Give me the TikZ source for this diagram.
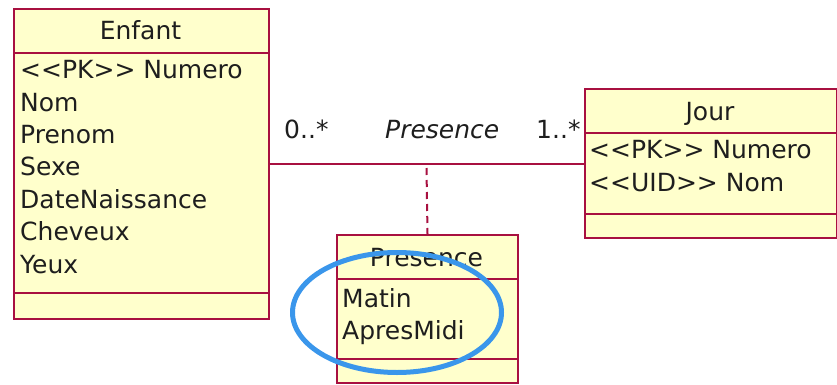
\documentclass[tikz,border=0pt]{standalone}
\usepackage{fontspec}
\setmainfont{DejaVu Sans}[Ligatures=TeXOff]
\definecolor{umlred}{RGB}{168,16,64}
\definecolor{umlfill}{RGB}{255,255,204}
\definecolor{hlblue}{RGB}{58,150,235}
\definecolor{txt}{RGB}{30,30,30}
\begin{document}
\begin{tikzpicture}[x=1pt,y=-1pt,
  comp/.style={draw=umlred, fill=umlfill, line width=2pt, anchor=north west, inner sep=0pt},
  lbl/.style={font=\fontsize{25}{30}\selectfont, text=txt, inner sep=0pt},
  assoc/.style={draw=umlred, line width=2pt},
  dashlink/.style={draw=umlred, line width=2pt, dash pattern=on 7pt off 5pt},
  highlight/.style={draw=hlblue, line width=5pt}]
\useasboundingbox (0,0) rectangle (837,385);
% Enfant
\node[comp, minimum width=255pt, minimum height=44pt] (enfH) at (13,8) {};
\node[comp, minimum width=255pt, minimum height=240pt] (enfA) at (13,52) {};
\node[comp, minimum width=255pt, minimum height=26pt] (enfO) at (13,292) {};
\node[lbl, anchor=base] (enfT) at (140.5,40) {Enfant};
\node[lbl, anchor=base west] (e1) at (20,78.5) {<<PK>> Numero};
\node[lbl, anchor=base west] (e2) at (20,111) {Nom};
\node[lbl, anchor=base west] (e3) at (20,143.4) {Prenom};
\node[lbl, anchor=base west] (e4) at (20,175.8) {Sexe};
\node[lbl, anchor=base west] (e5) at (20,208.2) {DateNaissance};
\node[lbl, anchor=base west] (e6) at (20,240.6) {Cheveux};
\node[lbl, anchor=base west] (e7) at (20,273) {Yeux};
% Jour
\node[comp, minimum width=252pt, minimum height=44pt] (jourH) at (584,88) {};
\node[comp, minimum width=252pt, minimum height=81pt] (jourA) at (584,132) {};
\node[comp, minimum width=252pt, minimum height=24pt] (jourO) at (584,213) {};
\node[lbl, anchor=base] (jourT) at (710,120.7) {Jour};
\node[lbl, anchor=base west] (j1) at (589,158) {<<PK>> Numero};
\node[lbl, anchor=base west] (j2) at (589,191) {<<UID>> Nom};
% Presence class
\node[comp, minimum width=181pt, minimum height=44pt] (presH) at (336,234) {};
\node[comp, minimum width=181pt, minimum height=80pt] (presA) at (336,278) {};
\node[comp, minimum width=181pt, minimum height=24pt] (presO) at (336,358) {};
\node[lbl, anchor=base] (presT) at (426.5,266.7) {Presence};
\node[lbl, anchor=base west] (p1) at (342,307.3) {Matin};
\node[lbl, anchor=base west] (p2) at (342,339.3) {ApresMidi};
% association
\coordinate (mid) at (426.5,164);
\draw[assoc] (enfA.east |- mid) -- (jourA.west |- mid);
\draw[dashlink] ([yshift=-4pt]mid) -- (presH.north);
\node[lbl, anchor=base west] (m1) at (284,138) {0..*};
\node[lbl, anchor=base west, font=\fontsize{25}{30}\selectfont\itshape] (an) at (385,138) {Presence};
\node[lbl, anchor=base west] (m2) at (536,138) {1..*};
% highlight
\draw[highlight] (397,312.5) ellipse [x radius=104.5pt, y radius=60pt];
\end{tikzpicture}
\end{document}
